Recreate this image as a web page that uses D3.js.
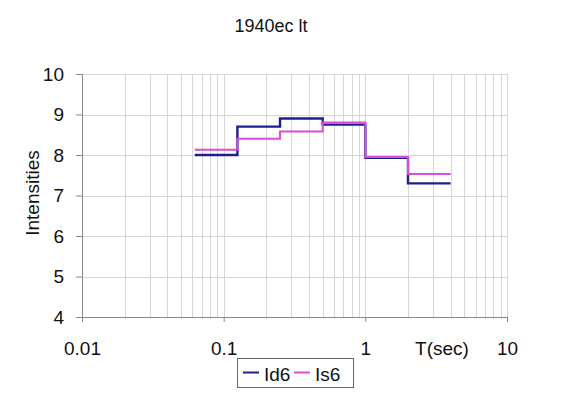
<!DOCTYPE html>
<html>
<head>
<meta charset="utf-8">
<script src="https://cdn.jsdelivr.net/npm/d3@7"></script>
<style>
  body { margin: 0; background: #fff; }
  text { font-family: "Liberation Sans", Arial, sans-serif; fill: #111; }
</style>
</head>
<body>
<div id="root"></div>
<script>
// period bin edges (sec) and intensities per bin
const periods = [0.0625, 0.125, 0.25, 0.5, 1, 2, 4];
const id6 = [8.0, 8.7, 8.9, 8.75, 7.93, 7.3];
const is6 = [8.13, 8.4, 8.58, 8.8, 7.95, 7.53];
const xTicks = [0.01, 0.1, 1, 10];
const yTicks = [4, 5, 6, 7, 8, 9, 10];
const seriesNames = ["Id6", "Is6"];
const colors = ["#1f1f8c", "#d84ed8"];

const w = 580;
const h = 397;
const plotLeft = 82, plotRight = 507, plotTop = 74, plotBottom = 317;

const xScale = d3.scaleLog().domain([0.01, 10]).range([plotLeft, plotRight]);
const yScale = d3.scaleLinear().domain([4, 10]).range([plotBottom, plotTop]);

const svg = d3.select("#root")
  .append("svg")
  .attr("width", w)
  .attr("height", h);

// minor + major vertical grid
const xGrid = [];
for (let dec = 0.01; dec < 10; dec *= 10) {
  for (let k = 1; k <= 10; k++) xGrid.push(+(dec * k).toPrecision(3));
}
svg.append("g")
  .selectAll("line")
  .data(xGrid.filter(v => v > 0.01))
  .enter()
  .append("line")
  .attr("x1", d => Math.round(xScale(d)) + 0.5)
  .attr("x2", d => Math.round(xScale(d)) + 0.5)
  .attr("y1", plotTop)
  .attr("y2", plotBottom)
  .attr("stroke", "#d6d6d6")
  .attr("stroke-width", 1);

svg.append("g")
  .selectAll("line")
  .data(yTicks.filter(v => v > 4))
  .enter()
  .append("line")
  .attr("x1", plotLeft)
  .attr("x2", plotRight)
  .attr("y1", d => Math.round(yScale(d)) + 0.5)
  .attr("y2", d => Math.round(yScale(d)) + 0.5)
  .attr("stroke", "#d6d6d6")
  .attr("stroke-width", 1);

// axes
const xAxis = d3.axisBottom(xScale)
  .tickValues(xTicks)
  .tickSize(5)
  .tickPadding(20)
  .tickFormat(d => d3.format("~g")(d));
const yAxis = d3.axisLeft(yScale)
  .tickValues(yTicks)
  .tickSize(6)
  .tickPadding(12)
  .tickFormat(d3.format("d"));

const gx = svg.append("g")
  .attr("transform", `translate(0, ${plotBottom})`)
  .call(xAxis);
const gy = svg.append("g")
  .attr("transform", `translate(${plotLeft}, 0)`)
  .call(yAxis);

[gx, gy].forEach(g => {
  g.select(".domain").attr("stroke", "#888");
  g.selectAll(".tick line").attr("stroke", "#888");
  g.selectAll(".tick text")
    .attr("font-size", 19)
    .attr("font-family", "Liberation Sans, Arial, sans-serif")
    .attr("fill", "#111");
});

// step lines
const line = d3.line()
  .curve(d3.curveStepAfter)
  .x(d => xScale(d[0]))
  .y(d => yScale(d[1]));

[id6, is6].forEach((vals, i) => {
  const pts = vals.map((v, j) => [periods[j], v]);
  pts.push([periods[periods.length - 1], vals[vals.length - 1]]);
  svg.append("path")
    .datum(pts)
    .attr("d", line)
    .attr("fill", "none")
    .attr("stroke", colors[i])
    .attr("stroke-width", i === 0 ? 2.4 : 2);
});

// titles
svg.append("text")
  .attr("x", 271)
  .attr("y", 32)
  .attr("text-anchor", "middle")
  .attr("font-size", 18)
  .text("1940ec lt");

svg.append("text")
  .attr("transform", "translate(39, 193) rotate(-90)")
  .attr("text-anchor", "middle")
  .attr("font-size", 19)
  .text("Intensities");

svg.append("text")
  .attr("x", 442)
  .attr("y", 355)
  .attr("text-anchor", "middle")
  .attr("font-size", 19)
  .text("T(sec)");

// legend
const legend = svg.append("g");
legend.append("rect")
  .attr("x", 237.5)
  .attr("y", 358.5)
  .attr("width", 116)
  .attr("height", 29)
  .attr("fill", "#fff")
  .attr("stroke", "#666")
  .attr("stroke-width", 1);

const legendX = [243, 294];
seriesNames.forEach((name, i) => {
  legend.append("line")
    .attr("x1", legendX[i])
    .attr("x2", legendX[i] + 16)
    .attr("y1", 372.5)
    .attr("y2", 372.5)
    .attr("stroke", colors[i])
    .attr("stroke-width", 2);
  legend.append("text")
    .attr("x", legendX[i] + 21)
    .attr("y", 381)
    .attr("font-size", 19)
    .text(name);
});
</script>
</body>
</html>
